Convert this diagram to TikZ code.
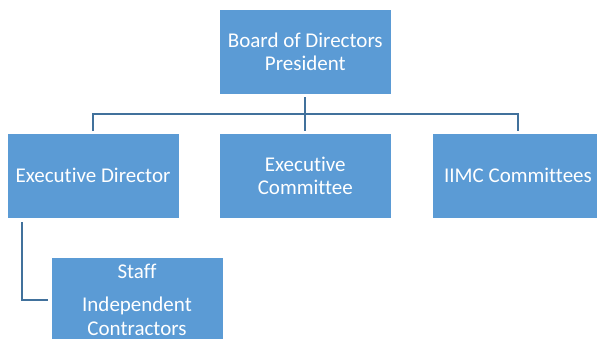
\documentclass[tikz,border=0pt]{standalone}
\usepackage{fontspec}
\setmainfont{Carlito}[Ligatures={CommonOff,RareOff},RawFeature={-calt}]
\definecolor{boxblue}{HTML}{5B9BD5}
\definecolor{linkblue}{HTML}{41719C}
\begin{document}
\begin{tikzpicture}[x=1pt,y=-1pt,
  orgbox/.style={fill=boxblue, draw=white, line width=0.6pt, minimum width=172pt, minimum height=84.5pt,
    inner sep=0pt, text=white, align=center, font=\fontsize{21}{23.3}\selectfont},
  conn/.style={draw=linkblue, line width=2pt}]
\useasboundingbox (0,0) rectangle (597,339);
\clip (0,0) rectangle (597,339);
\node[orgbox] (board) at (305.3,51.7) {Board of Directors\\President};
\node[orgbox] (ed) at (93,175.7) {Executive Director};
\node[orgbox] (ec) at (305.3,175.7) {Executive\\Committee};
\node[orgbox] (ic) at (518,175.7) {IIMC Committees};
\node[orgbox] (staff) at (137,300) {Staff\\[9.7pt]Independent\\Contractors};
\coordinate (bus) at (305.3,114);
\draw[conn, shorten <=3pt] (board.south) -- (bus);
\draw[conn, shorten >=2pt] (bus) -- (ec.north);
\draw[conn, shorten <=2pt, shorten >=2pt] (ed.north) |- (bus) -| (ic.north);
\draw[conn, shorten <=4pt, shorten >=3pt] ([xshift=15.7pt]ed.south west) |- (staff.west);
\end{tikzpicture}
\end{document}
